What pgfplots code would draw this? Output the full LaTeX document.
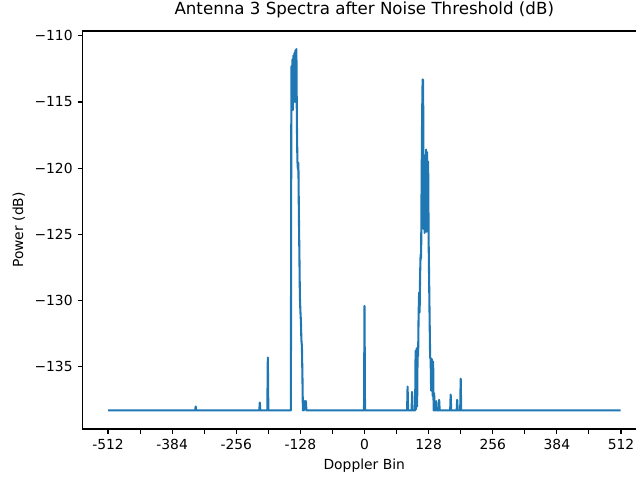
\documentclass[border=0pt]{standalone}
\usepackage{fontspec}
\setmainfont{DejaVu Sans}
\usepackage{pgfplots}
\pgfplotsset{compat=1.18}
\definecolor{mplblue}{HTML}{1F77B4}
\begin{document}
\fontsize{10.4pt}{12pt}\selectfont
\begin{tikzpicture}
\begin{axis}[
 scale only axis,
 width=422.8pt, height=298.5pt,
 xmin=-563.15, xmax=562.15,
 ymin=-139.7, ymax=-109.64,
 xtick={-512,-448,...,512},
 xticklabels={-512,,-384,,-256,,-128,,0,,128,,256,,384,,512},
 ytick={-135,-130,-125,-120,-115,-110},
 yticklabels={−135,−130,−125,−120,−115,−110},
 tick align=outside,
 xtick pos=left, ytick pos=left,
 major tick length=3.65pt,
 tick style={black, line width=0.83pt},
 axis line style={line width=0.83pt},
 xticklabel style={font=\fontsize{10.4pt}{12pt}\selectfont},
 yticklabel style={font=\fontsize{10.4pt}{12pt}\selectfont},
 xlabel={Doppler Bin}, ylabel={Power (dB)},
 label style={font=\fontsize{10.4pt}{12pt}\selectfont},
 title={Antenna 3 Spectra after Noise Threshold (dB)},
 title style={font=\fontsize{12.5pt}{14pt}\selectfont},
]
\addplot[mplblue, line width=1.56pt, line join=round, mark=none] coordinates {
(-512,-138.3)
(-338,-138.3)(-337,-138.0)(-336,-138.3)
(-210,-138.3)(-209,-137.7)(-208,-138.3)
(-194,-138.3)(-193,-134.3)(-192,-138.3)
(-152,-138.3)(-147,-138.3)
(-146,-112.3)(-145,-115.6)(-144,-111.8)(-143,-115.6)(-142,-111.5)
(-141,-114.5)(-140,-111.3)(-139,-115.0)(-138,-111.1)(-137,-113.0)
(-136,-111.0)(-135,-116.5)(-134,-119.4)(-133,-120.1)(-132,-119.6)
(-131,-123.5)(-130,-126.5)(-129,-129.7)(-128,-130.8)(-127,-131.5)
(-126,-133.0)(-125,-133.4)(-124,-135.5)(-123,-138.3)(-122,-137.8)
(-121,-138.3)(-120,-137.6)(-119,-138.2)(-118,-137.6)(-117,-137.6)
(-116,-138.3)
(-1,-138.3)(0,-130.4)(1,-138.3)
(85,-138.3)(86,-136.5)(87,-138.3)
(94,-138.3)(95,-136.9)(96,-138.3)
(101,-138.3)(102,-133.8)(103,-138.2)(104,-133.6)(105,-138.0)
(106,-133.7)(107,-134.2)(108,-131.0)(109,-129.4)(110,-130.9)
(111,-128.0)(112,-126.5)(113,-126.8)(114,-121.0)(115,-116.0)
(116,-113.3)(117,-113.4)(118,-124.6)(119,-119.0)(120,-124.9)
(121,-120.0)(122,-124.0)(123,-118.6)(124,-124.8)(125,-118.8)
(126,-123.5)(127,-119.5)(128,-125.5)(129,-128.5)(130,-131.5)
(131,-134.3)(132,-134.4)(133,-136.8)(134,-134.4)(135,-134.6)
(136,-137.2)(137,-134.6)(138,-138.3)(139,-137.0)(140,-138.3)
(142,-138.3)(143,-137.6)(144,-138.3)
(148,-138.3)(149,-137.5)(150,-138.3)
(171,-138.3)(172,-137.1)(173,-138.3)
(184,-138.3)(185,-137.5)(186,-138.3)
(191,-138.3)(192,-135.9)(193,-138.3)
(511,-138.3)
};
\end{axis}
\pgfresetboundingbox
\path[use as bounding box] (current axis.south west) ++(-61.8pt,-36pt) rectangle ++(477pt,357.75pt);
\end{tikzpicture}
\end{document}
